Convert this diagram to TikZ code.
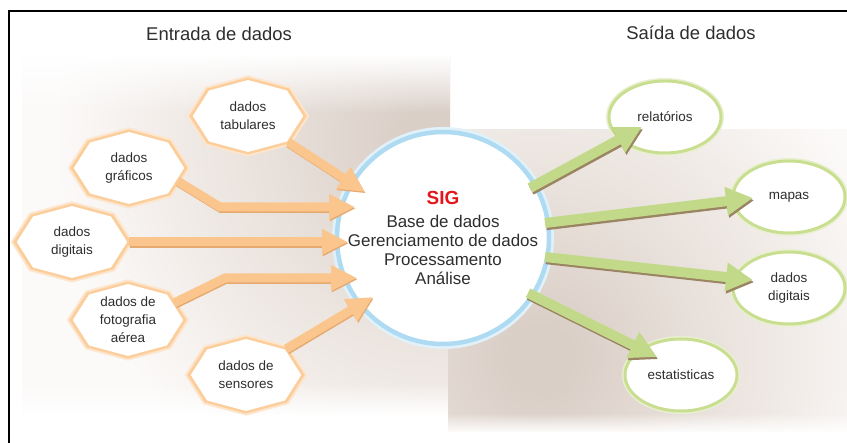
\documentclass[tikz,border=0pt]{standalone}
\usepackage{fontspec}
\setmainfont{Liberation Sans}
\usetikzlibrary{shapes.geometric,arrows.meta,calc,fadings}
\pgfdeclarelayer{panel}
\pgfdeclarelayer{shapes}
\pgfsetlayers{panel,shapes,main}
\definecolor{pdark}{HTML}{DACFC7}
\definecolor{pmid}{HTML}{E8E0DA}
\definecolor{plight}{HTML}{FCFAF9}
\definecolor{txt}{HTML}{2E2E2E}
\definecolor{sigred}{HTML}{E3161B}
\definecolor{oglow}{HTML}{FDE6CD}
\definecolor{oline}{HTML}{FBCE9C}
\definecolor{gglow}{HTML}{E8F0CF}
\definecolor{gline}{HTML}{CADE92}
\definecolor{ringglow}{HTML}{E0F1FA}
\definecolor{ringc}{HTML}{AEDBF2}
\definecolor{oarr}{HTML}{FAC68E}
\definecolor{oarrsh}{HTML}{E6A970}
\definecolor{garr}{HTML}{C3D98A}
\definecolor{gsh}{HTML}{9A8462}
\pgfdeclareradialshading{panelshade}{\pgfpoint{0bp}{0bp}}{color(0bp)=(pdark); color(2bp)=(pdark); color(10bp)=(pmid); color(23bp)=(plight); color(50bp)=(plight)}
\tikzfading[name=topfade, top color=transparent!0, bottom color=transparent!100]
\tikzfading[name=botfade, top color=transparent!100, bottom color=transparent!0]
\begin{document}
\begin{tikzpicture}[x=1bp,y=1bp,
  lbl/.style={font=\fontsize{13.5}{18}\selectfont, text=txt, align=center},
  octn/.style={lbl, ellipse, minimum width=114bp, minimum height=74bp, inner sep=0pt, outer sep=0pt},
  titl/.style={font=\fontsize{18.5}{22}\selectfont, text=txt, anchor=base},
  oarrow/.style={draw=oarr, line width=9bp, line join=miter, -{Triangle[length=26bp,width=24bp]}},
  oshadow/.style={draw=oarrsh, line width=9bp, line join=miter, -{Triangle[length=26bp,width=24bp]}, transform canvas={shift={(0.8bp,-1.3bp)}}},
  garrow/.style={draw=garr, line width=10bp, line join=miter, -{Triangle[length=27bp,width=27bp]}},
  gshadow/.style={draw=gsh, line width=10bp, line join=miter, -{Triangle[length=27bp,width=27bp]}, transform canvas={shift={(1.2bp,-2.2bp)}}}
]
\useasboundingbox (0,0) rectangle (847,443);

% background panels
\begin{pgfonlayer}{panel}
\fill[white] (0,0) rectangle (847,443);
\begin{scope}
\clip (22,28) rectangle (450,388);
\fill[plight] (22,28) rectangle (450,388);
\shade[shading=panelshade] (440,305) circle (420);
\fill[white, path fading=topfade] (22,330) rectangle (450,388.5);
\fill[white, path fading=botfade] (22,27) rectangle (450,60);
\end{scope}
\begin{scope}
\clip (448,11) rectangle (847,313);
\fill[plight] (448,11) rectangle (847,313);
\shade[shading=panelshade] (540,85) circle (400);
\fill[white, path fading=botfade] (448,10) rectangle (847,30);
\end{scope}
\end{pgfonlayer}

% frame
\draw[line width=1.6bp, black] (9,-20) -- (9,432) -- (880,432);

% titles
\node[titl] (tin) at (219,402.5) {Entrada de dados};
\node[titl] (tout) at (691,403) {Saída de dados};

% central node
\node[circle, inner sep=0pt, outer sep=0pt, align=center, text=txt,
      font=\fontsize{17}{19}\selectfont] (sig) at (443,205)
  {{\fontsize{19}{22}\selectfont\bfseries\color{sigred}SIG}\\[4bp]
   Base de dados\\ Gerenciamento de dados\\ Processamento\\ Análise};

% input nodes (octagons)
\node[octn] (tab)  at (248,327) {dados\\tabulares};
\node[octn] (graf) at (129,275) {dados\\gráficos};
\node[octn] (dig)  at (72,201)  {dados\\digitais};
\node[octn] (foto) at (128,123) {dados de\\fotografia\\aérea};
\node[octn] (sens) at (246,68)  {dados de\\sensores};

% output nodes (ellipses)
\begin{pgfonlayer}{shapes}
\foreach \p in {(665,326),(789,246),(789,155),(681,68)}{
  \draw[gglow, line width=6bp] \p ellipse (56 and 36);
  \filldraw[fill=white, draw=gline, line width=3bp] \p ellipse (56 and 36);
}
\end{pgfonlayer}
\node[lbl] (rel)  at (665,326) {relatórios};
\node[lbl] (map)  at (789,246) {mapas};
\node[lbl] (ddig) at (789,155) {dados\\digitais};
\node[lbl] (est)  at (681,68)  {estatisticas};

% shapes layer: octagons and ring
\begin{pgfonlayer}{shapes}
\foreach \n in {tab,graf,dig,foto,sens}{
  \draw[oglow, line width=7bp, line join=miter] (\n.east)--(\n.north east)--(\n.north)--(\n.north west)--(\n.west)--(\n.south west)--(\n.south)--(\n.south east)--cycle;
  \filldraw[fill=white, draw=oline, line width=3bp, line join=miter] (\n.east)--(\n.north east)--(\n.north)--(\n.north west)--(\n.west)--(\n.south west)--(\n.south)--(\n.south east)--cycle;
  \draw[white, line width=1.5bp, line join=miter] ($(\n.center)!0.95!(\n.east)$)--($(\n.center)!0.95!(\n.north east)$)--($(\n.center)!0.95!(\n.north)$)--($(\n.center)!0.95!(\n.north west)$)--($(\n.center)!0.95!(\n.west)$)--($(\n.center)!0.95!(\n.south west)$)--($(\n.center)!0.95!(\n.south)$)--($(\n.center)!0.95!(\n.south east)$)--cycle;
}
\draw[ringglow, line width=10bp] (sig.center) circle (106);
\filldraw[fill=white, draw=ringc, line width=4.5bp] (sig.center) circle (106);
\end{pgfonlayer}

% input arrows (shadows then arrows)
\coordinate (gB) at ($(sig.center)+(-223,31)$);
\coordinate (fB) at ($(sig.center)+(-218,-40)$);
\foreach \s in {oshadow,oarrow}{
  \draw[\s] (tab.south east) -- ($(sig.center)+(-78,46)$);
  \draw[\s] ($(graf.east)!0.5!(graf.south east)$) -- (gB) -- ($(sig.center)+(-88,31)$);
  \draw[\s] (dig.east) -- ($(sig.center)+(-95,-4)$);
  \draw[\s] ($(foto.east)!0.65!(foto.north east)$) -- (fB) -- ($(sig.center)+(-86,-40)$);
  \draw[\s] (sens.north east) -- ($(sig.center)+(-70,-59)$);
}

% output arrows
\foreach \s in {gshadow,garrow}{
  \draw[\s] ($(sig.center)+(87,50)$) -- ($(rel.center)+(-23,-10)$);
  \draw[\s] ($(sig.center)+(102,15)$) -- ($(map.center)+(-36,-1)$);
  \draw[\s] ($(sig.center)+(102,-19)$) -- ($(ddig.center)+(-36,8)$);
  \draw[\s] ($(sig.center)+(85,-55)$) -- ($(est.center)+(-24,18)$);
}
\end{tikzpicture}
\end{document}
